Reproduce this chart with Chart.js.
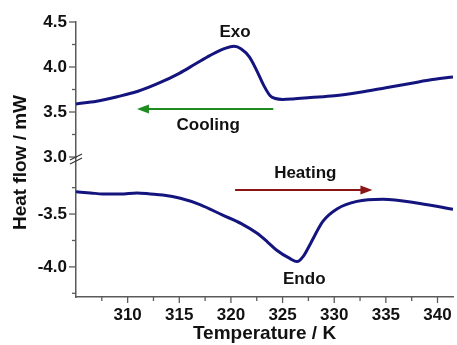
<!DOCTYPE html>
<html>
<head>
<meta charset="utf-8">
<script src="https://cdn.jsdelivr.net/npm/chart.js@4.4.0/dist/chart.umd.min.js"></script>
<style>
  html, body { margin: 0; padding: 0; background: #fff; }
  #wrap { width: 457px; height: 345px; }
</style>
</head>
<body>
<div id="wrap"><canvas id="c"></canvas></div>
<script>
// cooling run (upper panel)
const coolT  = [305.0, 307.0, 309.0, 311.0, 313.0, 315.0, 316.5, 318.0, 319.5, 320.3, 321.0, 321.8, 322.5, 323.2, 323.8, 324.3, 325.0, 326.0, 327.7, 330.0, 332.5, 335.0, 337.5, 339.5, 341.5];
const coolHF = [3.59, 3.62, 3.67, 3.73, 3.82, 3.93, 4.03, 4.13, 4.21, 4.23, 4.20, 4.11, 3.96, 3.79, 3.68, 3.65, 3.64, 3.645, 3.66, 3.68, 3.72, 3.77, 3.82, 3.86, 3.89];
// heating run (lower panel)
const heatT  = [305.0, 306.4, 307.6, 309.3, 310.9, 312.2, 313.4, 315.1, 317.0, 319.2, 321.0, 322.5, 323.5, 324.4, 325.7, 326.4, 327.0, 327.7, 328.9, 330.3, 332.2, 334.7, 338.3, 341.5];
const heatHF = [-3.29, -3.30, -3.31, -3.31, -3.30, -3.31, -3.32, -3.35, -3.41, -3.51, -3.59, -3.68, -3.76, -3.84, -3.92, -3.95, -3.90, -3.78, -3.57, -3.45, -3.38, -3.36, -3.40, -3.455];

// text labels: [text, x, y, axis]
const notes = [
  ['Exo', 320.4, 4.38, 'yUp'],
  ['Cooling', 317.8, 3.355, 'yUp'],
  ['Heating', 327.2, -3.11, 'yLow'],
  ['Endo', 327.1, -4.12, 'yLow']
];
// arrows: [fromX, toX, y, axis, colour]
const arrows = [
  [324.1, 310.9, 3.533, 'yUp', '#1e8c1e'],
  [320.4, 333.7, -3.272, 'yLow', '#8b1515']
];

const FONT = '"Liberation Sans", Arial, sans-serif';
const AXIS = '#5a5a5a';

function isHalf(v) { return Math.abs(v * 2 - Math.round(v * 2)) < 1e-6; }

const decor = {
  id: 'decor',
  afterDraw(chart) {
    const c = chart.ctx;
    const { x, yUp, yLow } = chart.scales;
    c.save();
    c.strokeStyle = AXIS;
    c.lineWidth = 1.3;
    // tick marks, major longer than minor
    x.ticks.forEach(t => {
      if (t.value <= 305) return;
      const p = x.getPixelForValue(t.value);
      const len = t.value % 5 === 0 ? 6 : 4;
      c.beginPath(); c.moveTo(p, x.top); c.lineTo(p, x.top + len); c.stroke();
    });
    [yUp, yLow].forEach(s => {
      s.ticks.forEach(t => {
        if (s === yLow && t.value >= -3.0) return;
        const p = s.getPixelForValue(t.value);
        const len = isHalf(t.value) ? 7 : 4;
        c.beginPath(); c.moveTo(s.right, p); c.lineTo(s.right - len, p); c.stroke();
      });
    });
    // axis break
    const by = yUp.bottom + 2;
    const ax = yUp.right;
    c.lineWidth = 1.2;
    c.strokeStyle = '#333';
    [-2, 2].forEach(d => {
      c.beginPath(); c.moveTo(ax - 6, by + d + 3); c.lineTo(ax + 6, by + d - 3); c.stroke();
    });
    // y title
    c.fillStyle = '#111';
    c.font = 'bold 19px ' + FONT;
    c.textAlign = 'center';
    c.textBaseline = 'middle';
    c.translate(21, (chart.chartArea.top + chart.chartArea.bottom) / 2 + 3);
    c.rotate(-Math.PI / 2);
    c.fillText('Heat flow / mW', 0, 0);
    c.restore();
  },
  afterDatasetsDraw(chart) {
    const c = chart.ctx;
    const { x } = chart.scales;
    c.save();
    arrows.forEach(([x0, x1, yv, ax, col]) => {
      const s = chart.scales[ax];
      const px0 = x.getPixelForValue(x0), px1 = x.getPixelForValue(x1), py = s.getPixelForValue(yv);
      const dir = Math.sign(px1 - px0);
      c.strokeStyle = col; c.fillStyle = col; c.lineWidth = 2;
      c.beginPath(); c.moveTo(px0, py); c.lineTo(px1 - dir * 9, py); c.stroke();
      c.beginPath(); c.moveTo(px1, py); c.lineTo(px1 - dir * 12, py - 4.5); c.lineTo(px1 - dir * 12, py + 4.5); c.closePath(); c.fill();
    });
    c.fillStyle = '#111';
    c.font = 'bold 17px ' + FONT;
    c.textAlign = 'center';
    c.textBaseline = 'middle';
    notes.forEach(([txt, xv, yv, ax]) => {
      c.fillText(txt, x.getPixelForValue(xv), chart.scales[ax].getPixelForValue(yv));
    });
    c.restore();
  }
};

const yTicks = {
  color: '#111',
  font: { family: FONT, size: 17, weight: 'bold' },
  padding: 2,
  stepSize: 0.25,
  includeBounds: false,
  autoSkip: false,
  callback: v => (isHalf(v) && v !== -3) ? v.toFixed(1) : ''
};
const yGrid = { drawOnChartArea: false, drawTicks: true, tickLength: 7, color: 'rgba(0,0,0,0)' };

new Chart(document.getElementById('c'), {
  type: 'line',
  data: {
    datasets: [
      { label: 'Cooling', data: coolT.map((t, i) => ({ x: t, y: coolHF[i] })), yAxisID: 'yUp' },
      { label: 'Heating', data: heatT.map((t, i) => ({ x: t, y: heatHF[i] })), yAxisID: 'yLow' }
    ].map(ds => Object.assign(ds, {
      borderColor: '#14147f', borderWidth: 3, pointRadius: 0,
      cubicInterpolationMode: 'monotone', fill: false
    }))
  },
  plugins: [decor],
  options: {
    responsive: true,
    maintainAspectRatio: false,
    animation: false,
    layout: { padding: { top: 22, right: 4, left: 0, bottom: 0 } },
    plugins: { legend: { display: false }, tooltip: { enabled: false } },
    scales: {
      x: {
        type: 'linear', min: 305, max: 341.5,
        border: { color: AXIS, width: 1.5 },
        grid: { drawOnChartArea: false, drawTicks: true, tickLength: 6, color: 'rgba(0,0,0,0)' },
        ticks: {
          color: '#111', font: { family: FONT, size: 17, weight: 'bold' },
          padding: 2, stepSize: 2.5, includeBounds: false, autoSkip: false, maxRotation: 0,
          callback: v => (v % 5 === 0 && v > 305) ? String(v) : ''
        },
        title: { display: true, text: 'Temperature / K', color: '#111',
                 font: { family: FONT, size: 19, weight: 'bold' }, padding: { top: 0, bottom: 0 } },
        afterFit: s => { s.height = 48; }
      },
      yLow: {
        type: 'linear', position: 'left', stack: 'hf', stackWeight: 1.40,
        min: -4.285, max: -2.96,
        border: { color: AXIS, width: 1.5 },
        grid: yGrid, ticks: yTicks,
        afterFit: s => { s.width = 76; }
      },
      yUp: {
        type: 'linear', position: 'left', stack: 'hf', stackWeight: 1.35,
        min: 3.0, max: 4.5,
        border: { color: AXIS, width: 1.5 },
        grid: yGrid, ticks: yTicks,
        afterFit: s => { s.width = 76; }
      }
    }
  }
});
</script>
</body>
</html>
